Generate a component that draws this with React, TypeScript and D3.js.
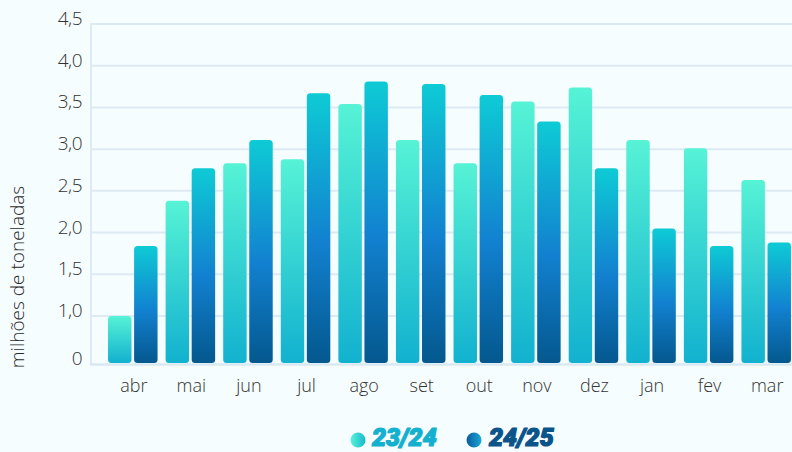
import React, { useRef, useEffect } from 'react';
import * as d3 from 'd3';

const months = ['abr', 'mai', 'jun', 'jul', 'ago', 'set', 'out', 'nov', 'dez', 'jan', 'fev', 'mar'];
const seriesNames = ['23/24', '24/25'];
const values2324 = [1.0, 2.38, 2.83, 2.88, 3.54, 3.11, 2.83, 3.57, 3.74, 3.11, 3.01, 2.63];
const values2425 = [1.84, 2.77, 3.11, 3.67, 3.81, 3.78, 3.65, 3.33, 2.77, 2.05, 1.84, 1.88];
const yTicks = [0, 1, 1.5, 2, 2.5, 3, 3.5, 4, 4.5];
const yTickLabels = ['0', '1,0', '1,5', '2,0', '2,5', '3,0', '3,5', '4,0', '4,5'];

const W = 792;
const H = 452;
const FONT = '"Open Sans", sans-serif';

const App: React.FC = () => {
  const svgRef = useRef<SVGSVGElement>(null);

  useEffect(() => {
    if (!svgRef.current) return;
    document.body.style.margin = '0';
    const svg = d3.select(svgRef.current);
    svg.selectAll('*').remove();
    svg.attr('width', W).attr('height', H);

    const left = 91;
    const right = 792;
    const top = 24;
    const bottom = 364;

    // broken axis: "0" sits on the baseline, then 1,0 .. 4,5 linear
    const y = d3.scaleLinear().domain([0, 1, 4.5]).range([bottom, 316, top]);

    const x = d3.scaleBand<string>()
      .domain(months)
      .range([104, 795])
      .paddingInner(0.14)
      .paddingOuter(0.07);

    const xInner = d3.scaleBand<string>()
      .domain(seriesNames)
      .range([0, x.bandwidth()])
      .paddingInner(0.1);

    const defs = svg.append('defs');
    const g1 = defs.append('linearGradient').attr('id', 'grad1')
      .attr('x1', 0).attr('y1', 0).attr('x2', 0).attr('y2', 1);
    g1.append('stop').attr('offset', '0%').attr('stop-color', '#56f3d6');
    g1.append('stop').attr('offset', '100%').attr('stop-color', '#12b1cf');

    const g2 = defs.append('linearGradient').attr('id', 'grad2')
      .attr('x1', 0).attr('y1', 0).attr('x2', 0).attr('y2', 1);
    g2.append('stop').attr('offset', '0%').attr('stop-color', '#0ecbd5');
    g2.append('stop').attr('offset', '55%').attr('stop-color', '#1281d0');
    g2.append('stop').attr('offset', '100%').attr('stop-color', '#04588e');

    const l1 = defs.append('linearGradient').attr('id', 'leg1');
    l1.append('stop').attr('offset', '0%').attr('stop-color', '#5af2d8');
    l1.append('stop').attr('offset', '100%').attr('stop-color', '#16b8cf');
    const l2 = defs.append('linearGradient').attr('id', 'leg2');
    l2.append('stop').attr('offset', '0%').attr('stop-color', '#0a5c9c');
    l2.append('stop').attr('offset', '100%').attr('stop-color', '#17a8d8');

    svg.append('rect').attr('width', W).attr('height', H).attr('fill', '#f6fdfe');

    // grid lines
    svg.append('g')
      .selectAll('line')
      .data(yTicks.filter(t => t > 0))
      .enter()
      .append('line')
      .attr('x1', left)
      .attr('x2', right)
      .attr('y1', d => y(d))
      .attr('y2', d => y(d))
      .attr('stroke', '#dde9f3')
      .attr('stroke-width', 2);

    // axis lines
    svg.append('line')
      .attr('x1', left).attr('x2', left)
      .attr('y1', top - 1).attr('y2', bottom)
      .attr('stroke', '#dde9f3').attr('stroke-width', 2);
    svg.append('line')
      .attr('x1', left - 1).attr('x2', right)
      .attr('y1', bottom + 0.5).attr('y2', bottom + 0.5)
      .attr('stroke', '#d9e8f3').attr('stroke-width', 2.5);

    // y tick labels
    svg.append('g')
      .selectAll('text')
      .data(yTicks)
      .enter()
      .append('text')
      .attr('x', 82)
      .attr('y', d => y(d) + 1)
      .attr('text-anchor', 'end')
      .attr('font-family', FONT)
      .attr('font-weight', 300)
      .attr('font-size', '19px')
      .attr('letter-spacing', '-0.5px')
      .attr('fill', '#333')
      .text((d, i) => yTickLabels[i]);

    // y axis title
    svg.append('text')
      .attr('transform', 'translate(24, 277) rotate(-90)')
      .attr('text-anchor', 'middle')
      .attr('font-family', FONT)
      .attr('font-weight', 300)
      .attr('font-size', '19px')
      .attr('fill', '#2a2a2a')
      .text('milhões de toneladas');

    // bars
    const rows = months.map((m, i) => ({ month: m, vals: [values2324[i], values2425[i]] }));
    const groups = svg.append('g')
      .selectAll('g')
      .data(rows)
      .enter()
      .append('g')
      .attr('transform', d => `translate(${x(d.month)}, 0)`);

    groups.selectAll('rect')
      .data(d => d.vals.map((v, k) => ({ key: seriesNames[k], value: v, k })))
      .enter()
      .append('rect')
      .attr('x', d => xInner(d.key) as number)
      .attr('width', xInner.bandwidth())
      .attr('y', d => y(d.value))
      .attr('height', d => bottom - 1 - y(d.value))
      .attr('rx', 3.5)
      .attr('fill', d => (d.k === 0 ? 'url(#grad1)' : 'url(#grad2)'));

    // month labels
    svg.append('g')
      .selectAll('text')
      .data(months)
      .enter()
      .append('text')
      .attr('x', d => (x(d) as number) + x.bandwidth() / 2 + 1)
      .attr('y', 392)
      .attr('text-anchor', 'middle')
      .attr('font-family', FONT)
      .attr('font-weight', 300)
      .attr('font-size', '18px')
      .attr('fill', '#333')
      .text(d => d);

    // legend
    const legendItems = [
      { name: seriesNames[0], cx: 358, tx: 372, fill: 'url(#leg1)', color: '#14b0d0' },
      { name: seriesNames[1], cx: 474, tx: 489, fill: 'url(#leg2)', color: '#0a548a' }
    ];
    const leg = svg.append('g');
    leg.selectAll('circle')
      .data(legendItems)
      .enter()
      .append('circle')
      .attr('cx', d => d.cx)
      .attr('cy', 440)
      .attr('r', 7.5)
      .attr('fill', d => d.fill);
    leg.selectAll('text')
      .data(legendItems)
      .enter()
      .append('text')
      .attr('x', d => d.tx)
      .attr('y', 446)
      .attr('font-family', 'Roboto, sans-serif')
      .attr('font-weight', 900)
      .attr('font-style', 'italic')
      .attr('font-size', '25px')
      .attr('fill', d => d.color)
      .attr('stroke', d => d.color)
      .attr('stroke-width', 1.2)
      .attr('stroke-linejoin', 'round')
      .text(d => d.name);
  }, []);

  return (
    <div style={{ position: 'absolute', left: 0, top: 0 }}>
      <svg ref={svgRef} style={{ display: 'block' }} />
    </div>
  );
};

export default App;
